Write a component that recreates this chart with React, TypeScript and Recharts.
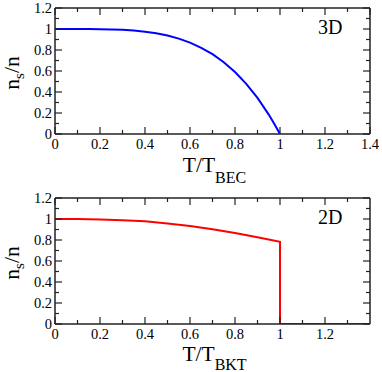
import { LineChart, Line, XAxis, YAxis, Label } from 'recharts';

// 3D panel, T / T_BEC
const tBec = [0, 0.05, 0.1, 0.15, 0.2, 0.25, 0.3, 0.35, 0.4, 0.45, 0.5, 0.55, 0.6, 0.65, 0.7, 0.75, 0.8, 0.85, 0.9, 0.95, 0.975, 1];
const ns3d = [1, 1, 1, 0.999, 0.998, 0.996, 0.992, 0.985, 0.974, 0.959, 0.938, 0.908, 0.87, 0.821, 0.76, 0.684, 0.59, 0.478, 0.344, 0.185, 0.096, 0];

// 2D panel, T / T_BKT (jump to zero at T_BKT)
const tBkt = [0, 0.1, 0.2, 0.3, 0.4, 0.5, 0.6, 0.7, 0.8, 0.9, 1, 1, 1.4];
const ns2d = [1, 0.999, 0.995, 0.988, 0.978, 0.958, 0.934, 0.903, 0.866, 0.826, 0.782, 0, 0];

const xTicks3d = [0, 0.1, 0.2, 0.3, 0.4, 0.5, 0.6, 0.7, 0.8, 0.9, 1, 1.1, 1.2, 1.3, 1.4];
const xTicks2d = [0, 0.1, 0.2, 0.3, 0.4, 0.5, 0.6, 0.7, 0.8, 0.9, 1, 1.1, 1.2, 1.3];
const yTicks = [0, 0.1, 0.2, 0.3, 0.4, 0.5, 0.6, 0.7, 0.8, 0.9, 1, 1.1, 1.2];

const data3d = tBec.map((t, i) => ({ t, ns: ns3d[i] }));
const data2d = tBkt.map((t, i) => ({ t, ns: ns2d[i] }));

const SERIF = {
    fontFamily: "'Liberation Serif', 'Times New Roman', Times, 'DejaVu Serif', serif",
};
const AXIS = { stroke: '#222', strokeWidth: 1.5 };

const isMajor = (v: number) => Math.round(v * 10) % 2 === 0;

// inward ticks, labels only on bottom/left
const makeTick = (side: 'bottom' | 'top' | 'left' | 'right') => (p: any) => {
    const { x, y, payload } = p;
    const v = payload.value;
    const major = isMajor(v);
    const len = major ? 7 : 4;
    let line;
    if (side === 'bottom') line = <line x1={x} y1={y} x2={x} y2={y - len} />;
    else if (side === 'top') line = <line x1={x} y1={y} x2={x} y2={y + len} />;
    else if (side === 'left') line = <line x1={x} y1={y} x2={x + len} y2={y} />;
    else line = <line x1={x} y1={y} x2={x - len} y2={y} />;
    return (
        <g stroke="#222" strokeWidth={1.2}>
            {line}
            {major && side === 'bottom' && (
                <text x={x} y={y + 15} textAnchor="middle" style={SERIF} fontSize={14.5} fill="#000" stroke="none">
                    {String(v)}
                </text>
            )}
            {major && side === 'left' && (
                <text x={x - 3} y={y} dy="0.33em" textAnchor="end" style={SERIF} fontSize={14.5} fill="#000" stroke="none">
                    {String(v)}
                </text>
            )}
        </g>
    );
};

const xTitle = (sub: string, dyMain: number, dySub: number) => (p: any) => {
    const { x, y, width } = p.viewBox;
    return (
        <text x={x + width / 2 + 2} y={y + dyMain} textAnchor="middle" style={SERIF} fontSize={21.5} fill="#000">
            <tspan>T/T</tspan>
            <tspan fontSize={16} dy={dySub}>{sub}</tspan>
        </text>
    );
};

const yTitle = (p: any) => {
    const { y, height } = p.viewBox;
    const cx = 19;
    const cy = y + height / 2 + 2;
    return (
        <text x={cx} y={cy} transform={`rotate(-90, ${cx}, ${cy})`} textAnchor="middle" style={SERIF} fontSize={21.5} fill="#000">
            <tspan>n</tspan>
            <tspan fontSize={15} dy={5}>s</tspan>
            <tspan dy={-5}>/n</tspan>
        </text>
    );
};

const panelTag = (tag: string) => (p: any) => {
    const { x, y, width, height } = p.viewBox;
    return (
        <text x={x + width - 52} y={y + height + 26} style={SERIF} fontSize={20} fill="#000">
            {tag}
        </text>
    );
};

function Panel({ data, xTicks, xMax, color, sub, tag, margin, titleDy, subDy }: any) {
    return (
        <LineChart width={382} height={186} data={data} margin={margin}>
            <XAxis dataKey="t" type="number" domain={[0, xMax]} ticks={xTicks} interval={0} allowDataOverflow
                height={1} tickSize={0} tickMargin={0} axisLine={AXIS} tick={makeTick('bottom')}>
                <Label content={xTitle(sub, titleDy, subDy)} />
            </XAxis>
            <XAxis xAxisId="top" orientation="top" dataKey="t" type="number" domain={[0, xMax]} ticks={xTicks} interval={0}
                allowDataOverflow height={1} tickSize={0} tickMargin={0} axisLine={AXIS} tick={makeTick('top')}>
                <Label content={panelTag(tag)} />
            </XAxis>
            <YAxis type="number" domain={[0, 1.2]} ticks={yTicks} interval={0} allowDataOverflow width={1}
                tickSize={0} tickMargin={0} axisLine={AXIS} tick={makeTick('left')}>
                <Label content={yTitle} />
            </YAxis>
            <YAxis yAxisId="right" orientation="right" type="number" domain={[0, 1.2]} ticks={yTicks} interval={0}
                allowDataOverflow width={1} tickSize={0} tickMargin={0} axisLine={AXIS} tick={makeTick('right')} />
            <Line type="linear" dataKey="ns" stroke={color} strokeWidth={2} dot={false} isAnimationActive={false} />
        </LineChart>
    );
}

export default function App() {
    return (
        <div style={{ position: 'absolute', left: 0, top: 0, width: 382, height: 372, background: '#fff' }}>
            <Panel data={data3d} xTicks={xTicks3d} xMax={1.4} color="#0000ff" sub="BEC" tag="3D" titleDy={38} subDy={11}
                margin={{ top: 7, right: 11, bottom: 51, left: 54 }} />
            <Panel data={data2d} xTicks={xTicks2d} xMax={1.4} color="#ff0000" sub="BKT" tag="2D" titleDy={37} subDy={9}
                margin={{ top: 11, right: 11, bottom: 47, left: 54 }} />
        </div>
    );
}
